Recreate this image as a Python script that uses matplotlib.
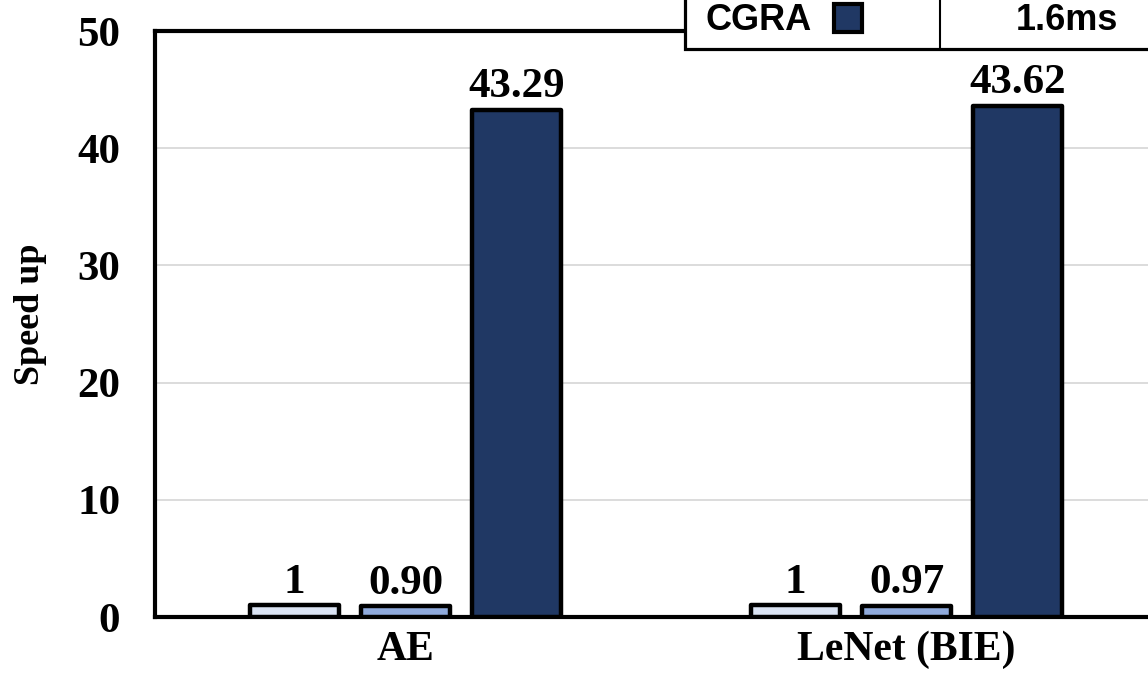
import matplotlib
matplotlib.use("Agg")
import matplotlib.pyplot as plt
from matplotlib.patches import Rectangle
import numpy as np

# data
categories = ["AE", "LeNet (BIE)"]
series_names = ["Baseline", "Variant", "CGRA"]
baseline = [1, 1]
variant = [0.90, 0.97]
cgra = [43.29, 43.62]
value_labels = [["1", "1"], ["0.90", "0.97"], ["43.29", "43.62"]]
yticks = [0, 10, 20, 30, 40, 50]
legend_row = ["CGRA", "1.6ms"]

colors = ["#DAE3F3", "#8FAADC", "#203864"]

serif = ["Liberation Serif", "DejaVu Serif"]
sans = ["Liberation Sans", "DejaVu Sans"]

fig = plt.figure(figsize=(11.48, 6.85), dpi=100)
# the plot area runs past the right edge of the picture, as in the reference
ax = fig.add_axes([155 / 1148, 1 - 617 / 685, 1002 / 1148, 586 / 685])

x = np.arange(len(categories))
width = 0.178
step = 0.222
series = [baseline, variant, cgra]
for i, vals in enumerate(series):
    pos = x + (i - 1) * step
    bars = ax.bar(pos, vals, width, color=colors[i], edgecolor="black",
                  linewidth=3.2, zorder=3)
    for b in bars:
        b.set_joinstyle("round")
    for p, v, lab in zip(pos, vals, value_labels[i]):
        ax.annotate(lab, (p, v), xytext=(0, 9), textcoords="offset points",
                    ha="center", va="baseline", fontsize=31, fontweight="bold",
                    family=serif)

ax.set_xlim(-0.5, 1.5)
ax.set_ylim(0, 50)
ax.set_yticks(yticks)
ax.set_xticks(x)
ax.set_xticklabels(categories)
ax.tick_params(axis="both", length=0)
ax.tick_params(axis="y", pad=25, labelsize=31)
ax.tick_params(axis="x", pad=10, labelsize=30)
for lab in ax.get_xticklabels() + ax.get_yticklabels():
    lab.set_family(serif)
    lab.set_fontweight("bold")

ax.set_ylabel("Speed up", fontsize=26, fontweight="bold", family=serif, labelpad=22,
              y=0.517)

ax.yaxis.grid(True, color="#D9D9D9", linewidth=1.3, zorder=0)
ax.set_axisbelow(True)
for s in ax.spines.values():
    s.set_linewidth(3.0)
    s.set_color("black")

# legend table row (upper rows are cut off by the picture edge)
tr = ax.transAxes
x0 = (685 - 155) / 1002
x_div = (940 - 155) / 1002
x1 = 1.06
y0 = (617 - 49) / 586
y1 = (617 + 6) / 586
ax.add_patch(Rectangle((x0, y0), x1 - x0, y1 - y0, transform=tr, facecolor="white",
                       edgecolor="black", linewidth=2.3, clip_on=False, zorder=5))
ax.plot([x_div, x_div], [y0, y1], transform=tr, color="black", linewidth=1.5,
        clip_on=False, zorder=6)
ymid = (617 - 20) / 586
ax.text((705 - 155) / 1002, ymid, legend_row[0], transform=tr, ha="left", va="center",
        fontsize=26, fontweight="bold", family=sans, zorder=7)
ax.add_patch(Rectangle(((834 - 155) / 1002, (617 - 32) / 586), 28 / 1002, 28 / 586,
                       transform=tr, facecolor=colors[2], edgecolor="black",
                       linewidth=3.0, clip_on=False, zorder=7))
ax.text((1067 - 155) / 1002, ymid, legend_row[1], transform=tr, ha="center", va="center",
        fontsize=26, fontweight="bold", family=sans, zorder=7)

fig.savefig("out.png", dpi=100)
